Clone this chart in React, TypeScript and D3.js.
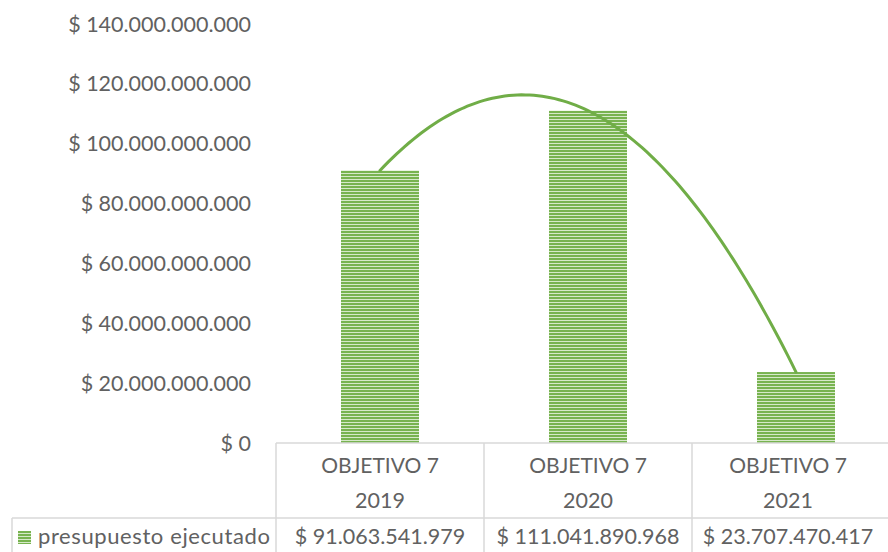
import React, { useEffect, useRef } from 'react'
import * as d3 from 'd3'

const categories = ['OBJETIVO 7|2019', 'OBJETIVO 7|2020', 'OBJETIVO 7|2021']
const values = [91063541979, 111041890968, 23707470417]
const yTicks = [0, 20e9, 40e9, 60e9, 80e9, 100e9, 120e9, 140e9]
const seriesName = 'presupuesto ejecutado'

const GREEN = '#70AD47'
const TEXT = '#616161'
const GRID = '#D9D9D9'
const FONT = 'Lato, "Open Sans", sans-serif'

const locale = d3.formatLocale({ decimal: ',', thousands: '.', grouping: [3], currency: ['$ ', ''] })
const money = locale.format('$,.0f')

// second order polynomial fit (x = 1..n), like the spreadsheet trendline
function polyFit2(ys: number[]) {
  const xs = ys.map((_, i) => i + 1)
  const n = xs.length
  const s = (f: (x: number, y: number) => number) => d3.sum(xs, (x, i) => f(x, ys[i]))
  const m = [
    [n, s(x => x), s(x => x * x), s(( _, y) => y)],
    [s(x => x), s(x => x * x), s(x => x ** 3), s((x, y) => x * y)],
    [s(x => x * x), s(x => x ** 3), s(x => x ** 4), s((x, y) => x * x * y)],
  ]
  for (let i = 0; i < 3; i++) {
    for (let k = i + 1; k < 3; k++) {
      const f = m[k][i] / m[i][i]
      for (let j = i; j < 4; j++) m[k][j] -= f * m[i][j]
    }
  }
  const c = [0, 0, 0]
  for (let i = 2; i >= 0; i--) {
    let v = m[i][3]
    for (let j = i + 1; j < 3; j++) v -= m[i][j] * c[j]
    c[i] = v / m[i][i]
  }
  return (x: number) => c[0] + c[1] * x + c[2] * x * x
}

const App = () => {
  const ref = useRef<SVGSVGElement>(null)
  const width = 888
  const height = 552

  useEffect(() => {
    const root = d3.select(ref.current)
    root.selectAll('*').remove()

    const defs = root.append('defs')
    const pat = defs.append('pattern')
      .attr('id', 'stripes')
      .attr('patternUnits', 'userSpaceOnUse')
      .attr('width', 8)
      .attr('height', 3)
    pat.append('rect').attr('width', 8).attr('height', 3).attr('fill', '#D6E9C9')
    pat.append('rect').attr('width', 8).attr('height', 2).attr('fill', '#78B350')

    const x = d3.scaleBand().domain(categories).range([276, 900])
    const y = d3.scaleLinear().domain([0, 140e9]).range([443, 24])

    const barW = x.bandwidth() * 0.375

    // y axis labels
    root.append('g')
      .selectAll('text')
      .data(yTicks)
      .enter()
      .append('text')
      .attr('x', 251)
      .attr('y', d => y(d))
      .attr('dy', '0.35em')
      .attr('text-anchor', 'end')
      .attr('font-family', FONT)
      .attr('font-size', 21.5)
      .attr('fill', TEXT)
      .text(d => money(d))

    // bars
    root.append('g')
      .selectAll('rect')
      .data(values)
      .enter()
      .append('rect')
      .attr('x', (d, i) => x(categories[i])! + (x.bandwidth() - barW) / 2)
      .attr('y', d => y(d))
      .attr('width', barW)
      .attr('height', d => y(0) - y(d))
      .attr('fill', 'url(#stripes)')

    // trendline (poly 2)
    const fit = polyFit2(values)
    const tx = d3.scaleLinear().domain([1, categories.length])
      .range([x(categories[0])! + x.bandwidth() / 2, x(categories[categories.length - 1])! + x.bandwidth() / 2])
    const pts = d3.range(1, categories.length + 0.001, 0.02)
    root.append('path')
      .datum(pts)
      .attr('fill', 'none')
      .attr('stroke', GREEN)
      .attr('stroke-width', 3)
      .attr('stroke-linecap', 'round')
      .attr('d', d3.line<number>().x(t => tx(t)).y(t => y(fit(t))))

    // data table
    const tbl = root.append('g').attr('stroke', GRID).attr('stroke-width', 1.5)
    tbl.append('line').attr('x1', 276).attr('x2', 888).attr('y1', 443).attr('y2', 443)
    tbl.append('line').attr('x1', 12).attr('x2', 888).attr('y1', 518).attr('y2', 518)
    tbl.append('line').attr('x1', 12).attr('x2', 12).attr('y1', 518).attr('y2', 560)
    tbl.selectAll('line.sep')
      .data(categories)
      .enter()
      .append('line')
      .attr('class', 'sep')
      .attr('x1', d => x(d)!)
      .attr('x2', d => x(d)!)
      .attr('y1', 443)
      .attr('y2', 560)

    const cells = root.append('g')
      .attr('font-family', FONT)
      .attr('fill', TEXT)
      .attr('text-anchor', 'middle')
    categories.forEach((c, i) => {
      const cx = x(c)! + x.bandwidth() / 2 - (i === 2 ? 8 : 0)
      const [l1, l2] = c.split('|')
      cells.append('text').attr('x', cx).attr('y', 466).attr('dy', '0.35em').attr('font-size', 21).text(l1)
      cells.append('text').attr('x', cx).attr('y', 500).attr('dy', '0.35em').attr('font-size', 21.5).text(l2)
      cells.append('text').attr('x', cx).attr('y', 536).attr('dy', '0.35em').attr('font-size', 21.5).text(money(values[i]))
    })

    // legend key
    root.append('rect')
      .attr('x', 18).attr('y', 531).attr('width', 13).attr('height', 13)
      .attr('fill', 'url(#stripes)')
    root.append('text')
      .attr('x', 38).attr('y', 536).attr('dy', '0.35em')
      .attr('font-family', FONT).attr('font-size', 22)
      .attr('letter-spacing', 0.6).attr('fill', TEXT)
      .text(seriesName)
  }, [])

  return (
    <svg
      ref={ref}
      width={width}
      height={height}
      style={{ position: 'fixed', left: 0, top: 0, background: '#fff' }}
    />
  )
}

export default App
